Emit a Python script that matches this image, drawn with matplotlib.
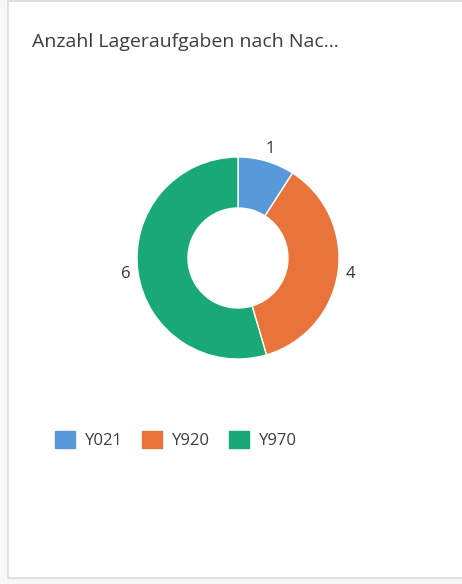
import matplotlib.pyplot as plt
from matplotlib.patches import Rectangle, Patch

# chart data
categories = ['Y021', 'Y920', 'Y970']
counts = [1, 4, 6]
colors = ['#5899DA', '#E8743B', '#19A979']
title = 'Anzahl Lageraufgaben nach Nac...'

plt.rcParams['font.family'] = ['Open Sans', 'DejaVu Sans']

W, H = 462, 584
fig = plt.figure(figsize=(W / 100, H / 100), dpi=100)
fig.patch.set_facecolor('#f7f7f7')
ax = fig.add_axes([0, 0, 1, 1])
ax.set_xlim(0, W)
ax.set_ylim(0, H)
ax.set_aspect('equal')
ax.axis('off')

# card background
ax.add_patch(Rectangle((7.5, H - 578), W, 577, facecolor='white',
                       edgecolor='#dcdcdc', linewidth=1.2, zorder=0))

ax.text(32, H - 42, title, fontsize=14, color='#3a3e42',
        ha='left', va='center')

# donut
wedges, texts = ax.pie(counts, colors=colors, labels=[str(c) for c in counts],
                       startangle=90, counterclock=False, center=(238, H - 258),
                       radius=101, labeldistance=1.12,
                       wedgeprops=dict(width=51, edgecolor='white', linewidth=1),
                       textprops=dict(fontsize=12, color='#333333'))
for t in texts:
    t.set_ha('center')
    t.set_va('center')
ax.set_xlim(0, W)
ax.set_ylim(0, H)
ax.axis('off')

# legend
handles = [Patch(facecolor=c, edgecolor=c) for c in colors]
leg = ax.legend(handles, categories, ncol=3, frameon=False, fontsize=12,
                loc='center left', bbox_to_anchor=(55 / W, 1 - 440 / H),
                borderaxespad=0, borderpad=0,
                handlelength=1.2, handleheight=1.2, handletextpad=0.6,
                columnspacing=1.15, labelcolor='#3a3e42')

fig.savefig('out.png', dpi=100, facecolor=fig.get_facecolor())
